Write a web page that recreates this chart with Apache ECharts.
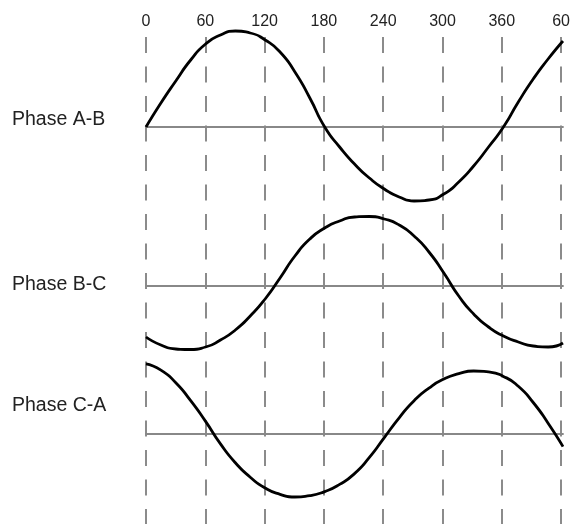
<!DOCTYPE html>
<html>
<head>
<meta charset="utf-8">
<script src="https://cdn.jsdelivr.net/npm/echarts@6/dist/echarts.min.js"></script>
<style>
  html, body { margin: 0; padding: 0; background: #fff; }
  #chart { width: 573px; height: 524px; }
</style>
</head>
<body>
<div id="chart"></div>
<script>
// 角度 (deg) and the three line-to-line waveforms
const degrees = [0, 15, 30, 45, 60, 75, 90, 105, 120, 135, 150, 165, 180, 195, 210,
  225, 240, 255, 270, 285, 300, 315, 330, 345, 360, 375, 390, 405, 420];
const phaseAB = [0, 24, 46, 67, 83, 92, 96, 94, 87, 75, 55, 29, 0, -20, -37,
  -51, -62, -70, -74, -73, -67, -55, -39, -20, 0, 25, 48, 68, 86];
const phaseBC = [-51, -59, -63, -63.5, -61, -54, -44, -30, -13, 8, 30, 47, 58, 65, 69,
  69.5, 67, 61, 50, 34, 13, -10, -28, -41, -50, -56, -60, -61, -57];
const phaseCA = [78, 71, 57, 37, 14, -11, -32, -48, -60, -67, -70, -68.5, -64, -56, -44,
  -26, -4, 18, 37, 51, 61, 67, 70, 69, 64, 53, 35, 12, -14];
const tickLabels = ['0', '60', '120', '180', '240', '300', '360', '60'];
const phaseNames = ['Phase A-B', 'Phase B-C', 'Phase C-A'];

const waves = [phaseAB, phaseBC, phaseCA];
const baseTops = [27, 186, 344];
const labelY = [121, 286, 407];

const chart = echarts.init(document.getElementById('chart'));

const grids = [{ left: 146, right: 10, top: 37, bottom: 0 }];
const xAxes = [{
  type: 'category',
  gridIndex: 0,
  data: tickLabels,
  position: 'top',
  boundaryGap: false,
  axisLine: { show: false },
  axisTick: { show: false },
  axisLabel: { margin: 7, fontSize: 16, color: '#222', fontFamily: 'Liberation Sans, Arial' },
  splitLine: { show: true, interval: 0, lineStyle: { color: '#666', width: 1.5, type: [16, 13.5] } }
}];
const yAxes = [{ type: 'value', gridIndex: 0, show: false }];
const series = [];

waves.forEach((wave, i) => {
  const g = i + 1;
  grids.push({ left: 146, right: 10, top: baseTops[i], height: 200 });
  xAxes.push({
    type: 'value',
    gridIndex: g,
    min: 0,
    max: 420,
    axisLine: { show: true, onZero: true, lineStyle: { color: '#888', width: 1.8 } },
    axisTick: { show: false },
    axisLabel: { show: false },
    splitLine: { show: false }
  });
  yAxes.push({ type: 'value', gridIndex: g, min: -100, max: 100, show: false });
  series.push({
    type: 'line',
    name: phaseNames[i],
    xAxisIndex: g,
    yAxisIndex: g,
    data: degrees.map((d, k) => [d, wave[k]]),
    smooth: 0.6,
    showSymbol: false,
    lineStyle: { color: '#000', width: 2.8 },
    z: 5
  });
});

const option = {
  animation: false,
  backgroundColor: '#fff',
  grid: grids,
  xAxis: xAxes,
  yAxis: yAxes,
  series: series,
  graphic: phaseNames.map((name, i) => ({
    type: 'text',
    left: 12,
    top: labelY[i] - 11,
    style: {
      text: name,
      font: '19.5px "Liberation Sans", Arial, sans-serif',
      fill: '#222'
    }
  }))
};

chart.setOption(option);
</script>
</body>
</html>
